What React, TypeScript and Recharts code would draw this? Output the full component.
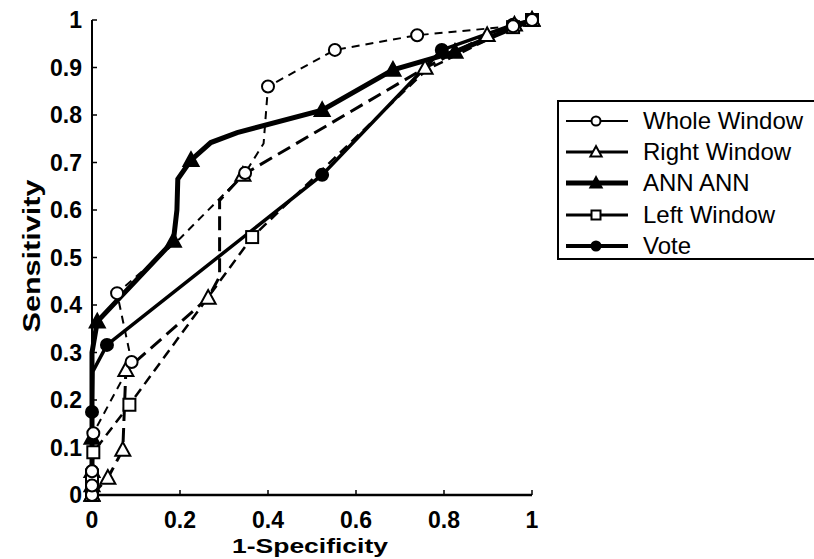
import React from 'react';
import { LineChart, Line, XAxis, YAxis, Legend } from 'recharts';

// [x, y, marker?]  a third value of 0 means a bend point with no marker
type Pt = [number, number, number?];

const wholeWindow: Pt[] = [
  [0, 0], [0, 0.02], [0, 0.05], [0.003, 0.13], [0.09, 0.28], [0.057, 0.425], [0.2, 0.54, 0],
  [0.348, 0.678], [0.39, 0.74, 0], [0.4, 0.86], [0.552, 0.937], [0.739, 0.968], [0.957, 0.987], [1, 1],
];
const rightWindow: Pt[] = [
  [0, 0], [0.036, 0.036], [0.07, 0.095], [0.077, 0.263], [0.264, 0.415], [0.29, 0.46, 0], [0.29, 0.62, 0],
  [0.343, 0.674], [0.757, 0.899], [0.898, 0.968], [0.96, 0.99], [1, 1],
];
const annAnn: Pt[] = [
  [0, 0], [0, 0.02], [0, 0.05], [0, 0.12], [0, 0.3, 0], [0.012, 0.365], [0.185, 0.535], [0.193, 0.6, 0],
  [0.195, 0.665, 0], [0.225, 0.705], [0.27, 0.742, 0], [0.33, 0.763, 0], [0.523, 0.81], [0.684, 0.895],
  [0.825, 0.933], [1, 1],
];
const leftWindow: Pt[] = [
  [0, 0], [0, 0.02], [0, 0.04], [0.003, 0.09], [0.085, 0.19], [0.364, 0.543], [0.76, 0.895, 0],
  [0.957, 0.985], [1, 1],
];
const vote: Pt[] = [
  [0, 0], [0, 0.02], [0, 0.05], [0, 0.175], [0.002, 0.26, 0], [0.034, 0.316], [0.523, 0.674],
  [0.795, 0.937], [0.957, 0.99], [1, 1],
];

const xTicks = [0, 0.2, 0.4, 0.6, 0.8, 1];
const yTicks = [0, 0.1, 0.2, 0.3, 0.4, 0.5, 0.6, 0.7, 0.8, 0.9, 1];
const seriesNames = ['Whole Window', 'Right Window', 'ANN ANN', 'Left Window', 'Vote'];

const toRows = (pts: Pt[]) => pts.map(([x, y, m]) => ({ x, y, m: m === 0 ? 0 : 1 }));

const FONT = '"Liberation Sans", Arial, sans-serif';

type Shape = 'circle' | 'triangle' | 'square';

const marker = (shape: Shape, filled: boolean, cx: number, cy: number, s: number, key?: string) => {
  const fill = filled ? '#000' : '#fff';
  if (shape === 'circle') {
    return <circle key={key} cx={cx} cy={cy} r={s} fill={fill} stroke="#000" strokeWidth={2} />;
  }
  if (shape === 'triangle') {
    const h = s * 1.3;
    return (
      <polygon
        key={key}
        points={`${cx},${cy - h} ${cx - s * 1.25},${cy + h * 0.75} ${cx + s * 1.25},${cy + h * 0.75}`}
        fill={fill}
        stroke="#000"
        strokeWidth={2}
      />
    );
  }
  return <rect key={key} x={cx - s} y={cy - s} width={s * 2} height={s * 2} fill={fill} stroke="#000" strokeWidth={2} />;
};

const makeDot = (shape: Shape, filled: boolean, name: string) => (props: any) => {
  const { cx, cy, payload, index } = props;
  const key = `${name}-${index}`;
  if (cx == null || cy == null || !payload || payload.m === 0) return <g key={key} />;
  return marker(shape, filled, cx, cy, 6, key);
};

const legendItems: { name: string; shape: Shape; filled: boolean; width: number }[] = [
  { name: seriesNames[0], shape: 'circle', filled: false, width: 2 },
  { name: seriesNames[1], shape: 'triangle', filled: false, width: 3 },
  { name: seriesNames[2], shape: 'triangle', filled: true, width: 5 },
  { name: seriesNames[3], shape: 'square', filled: false, width: 3 },
  { name: seriesNames[4], shape: 'circle', filled: true, width: 4 },
];

const LegendBox = () => (
  <div
    style={{
      width: 270,
      height: 160,
      borderTop: '2px solid #000',
      borderLeft: '2px solid #000',
      borderBottom: '2px solid #000',
      background: '#fff',
      boxSizing: 'border-box',
      paddingTop: 3,
    }}
  >
    {legendItems.map((it) => (
      <div key={it.name} style={{ display: 'flex', alignItems: 'center', height: 31.3 }}>
        <svg width={84} height={30} style={{ flex: 'none' }}>
          <line x1={7} x2={69} y1={15} y2={15} stroke="#000" strokeWidth={it.width} />
          {marker(it.shape, it.filled, 37, 15, 4.5)}
        </svg>
        <span style={{ fontFamily: FONT, fontSize: 24, color: '#000', whiteSpace: 'nowrap' }}>{it.name}</span>
      </div>
    ))}
  </div>
);

const tickStyle = { fontFamily: FONT, fontSize: 23, fontWeight: 700, fill: '#000' };

export default function App() {
  return (
    <div style={{ position: 'absolute', left: 0, top: 0, width: 814, height: 559, background: '#fff', overflow: 'hidden' }}>
      <LineChart width={814} height={559} margin={{ top: 20, right: 282, bottom: 24, left: 0 }}>
        <XAxis
          type="number"
          dataKey="x"
          domain={[0, 1]}
          ticks={xTicks}
          tickFormatter={(v) => String(v)}
          height={40}
          tickSize={-5}
          tickMargin={22}
          tick={tickStyle}
          axisLine={{ stroke: '#000', strokeWidth: 2.5 }}
          tickLine={{ stroke: '#000', strokeWidth: 1.5 }}
          allowDuplicatedCategory={false}
          label={{
            content: () => (
              <text
                x={310}
                y={553}
                textAnchor="middle"
                textLength={156}
                lengthAdjust="spacingAndGlyphs"
                style={{ fontFamily: FONT, fontSize: 21, fontWeight: 700, fill: '#000' }}
              >
                1-Specificity
              </text>
            ),
          }}
        />
        <XAxis
          xAxisId="top"
          orientation="top"
          type="number"
          domain={[0, 1]}
          height={0}
          tick={false}
          tickLine={false}
          axisLine={{ stroke: '#808080', strokeWidth: 2 }}
        />
        <YAxis
          type="number"
          domain={[0, 1]}
          ticks={yTicks}
          tickFormatter={(v) => String(v)}
          width={92}
          tickSize={-5}
          tickMargin={15}
          tick={tickStyle}
          axisLine={{ stroke: '#000', strokeWidth: 2 }}
          tickLine={{ stroke: '#000', strokeWidth: 1.5 }}
          label={{
            content: () => (
              <text
                x={40}
                y={256}
                transform="rotate(-90, 40, 256)"
                textAnchor="middle"
                textLength={153}
                lengthAdjust="spacingAndGlyphs"
                style={{ fontFamily: FONT, fontSize: 24, fontWeight: 700, fill: '#000' }}
              >
                Sensitivity
              </text>
            ),
          }}
        />
        <YAxis
          yAxisId="right"
          orientation="right"
          type="number"
          domain={[0, 1]}
          width={0}
          tick={false}
          tickLine={false}
          axisLine={{ stroke: '#808080', strokeWidth: 2 }}
        />
        <Line
          data={toRows(annAnn)}
          dataKey="y"
          name={seriesNames[2]}
          stroke="#000"
          strokeWidth={5}
          dot={makeDot('triangle', true, 'ann')}
          isAnimationActive={false}
        />
        <Line
          data={toRows(vote)}
          dataKey="y"
          name={seriesNames[4]}
          stroke="#000"
          strokeWidth={3.5}
          dot={makeDot('circle', true, 'vote')}
          isAnimationActive={false}
        />
        <Line
          data={toRows(leftWindow)}
          dataKey="y"
          name={seriesNames[3]}
          stroke="#000"
          strokeWidth={2.5}
          strokeDasharray="10 6"
          dot={makeDot('square', false, 'left')}
          isAnimationActive={false}
        />
        <Line
          data={toRows(rightWindow)}
          dataKey="y"
          name={seriesNames[1]}
          stroke="#000"
          strokeWidth={3}
          strokeDasharray="14 7"
          dot={makeDot('triangle', false, 'right')}
          isAnimationActive={false}
        />
        <Line
          data={toRows(wholeWindow)}
          dataKey="y"
          name={seriesNames[0]}
          stroke="#000"
          strokeWidth={2}
          strokeDasharray="8 6"
          dot={makeDot('circle', false, 'whole')}
          isAnimationActive={false}
        />
        <Legend
          layout="horizontal"
          verticalAlign="middle"
          align="center"
          wrapperStyle={{ position: 'absolute', left: 557, top: 100, width: 270 }}
          content={() => <LegendBox />}
        />
      </LineChart>
    </div>
  );
}
